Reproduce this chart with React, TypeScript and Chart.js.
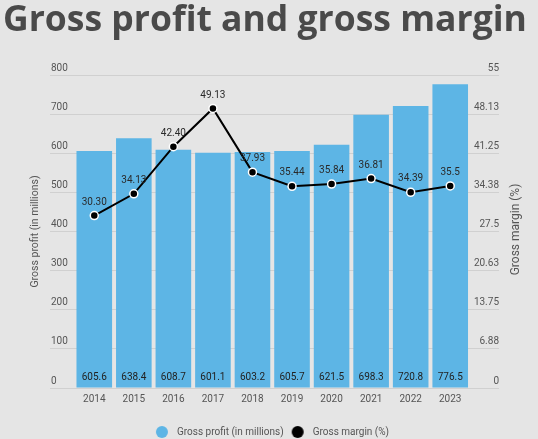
import React, { useEffect, useRef } from 'react';
import { Chart, registerables } from 'chart.js';

Chart.register(...registerables);

const years = ['2014', '2015', '2016', '2017', '2018', '2019', '2020', '2021', '2022', '2023'];
const grossProfit = [605.6, 638.4, 608.7, 601.1, 603.2, 605.7, 621.5, 698.3, 720.8, 776.5];
const grossMargin = [30.3, 34.13, 42.4, 49.13, 37.93, 35.44, 35.84, 36.81, 34.39, 35.5];
const marginText = ['30.30', '34.13', '42.40', '49.13', '37.93', '35.44', '35.84', '36.81', '34.39', '35.5'];
const profitMax = 800;
const profitStep = 100;
const marginMax = 55;
const marginStep = 6.875;

const CANVAS_W = 538;
const CANVAS_H = 447;
const BAR_COLOR = '#5db5e5';
const BG = '#e5e5e5';
const GRID = '#d0d0d0';
const TEXT = '#555555';

function makeDot(color: string) {
  const c = document.createElement('canvas');
  c.width = 20;
  c.height = 14;
  const g = c.getContext('2d')!;
  g.fillStyle = color;
  g.beginPath();
  g.arc(10, 7, 6, 0, Math.PI * 2);
  g.fill();
  return c;
}

export default function App() {
  const ref = useRef<HTMLCanvasElement | null>(null);

  useEffect(() => {
    document.body.style.margin = '0';
    document.body.style.background = BG;
    document.body.style.overflow = 'hidden';
    const dots = [makeDot(BAR_COLOR), makeDot('#000000')];

    const valueLabels = {
      id: 'valueLabels',
      afterDatasetsDraw(chart: any) {
        const ctx = chart.ctx;
        const area = chart.chartArea;
        ctx.save();
        ctx.textAlign = 'center';
        ctx.textBaseline = 'middle';
        ctx.font = '10px Roboto';
        ctx.fillStyle = '#222222';
        chart.getDatasetMeta(0).data.forEach((el: any, i: number) => {
          ctx.fillText(grossProfit[i].toFixed(1), el.x, area.bottom - 10.3);
        });
        ctx.fillStyle = '#2a2a2a';
        chart.getDatasetMeta(1).data.forEach((el: any, i: number) => {
          ctx.fillText(marginText[i], el.x, el.y - 13.4);
        });
        ctx.restore();
      },
    };

    const rightTitle = {
      id: 'rightTitle',
      afterDraw(chart: any) {
        const ctx = chart.ctx;
        const area = chart.chartArea;
        ctx.save();
        ctx.translate(chart.width - 22.5, (area.top + area.bottom) / 2 - 2);
        ctx.rotate(-Math.PI / 2);
        ctx.font = '12px Roboto';
        ctx.fillStyle = TEXT;
        ctx.textAlign = 'center';
        ctx.textBaseline = 'middle';
        ctx.fillText('Gross margin (%)', 0, 0);
        ctx.restore();
      },
    };

    const chart = new Chart(ref.current!, {
      type: 'bar',
      data: {
        labels: years,
        datasets: [
          {
            type: 'bar',
            label: 'Gross profit (in millions)',
            data: grossProfit,
            backgroundColor: BAR_COLOR,
            borderWidth: 0,
            barPercentage: 0.9,
            categoryPercentage: 1.0,
            yAxisID: 'y',
            order: 1,
          },
          {
            type: 'line',
            label: 'Gross margin (%)',
            data: grossMargin,
            borderColor: '#000000',
            borderWidth: 2,
            pointRadius: 4,
            pointBackgroundColor: '#000000',
            pointBorderColor: '#ffffff',
            pointBorderWidth: 1.5,
            tension: 0,
            yAxisID: 'y1',
            order: 0,
          } as any,
        ],
      },
      options: {
        responsive: false,
        animation: false,
        events: [],
        layout: { padding: { left: 3, right: 0, top: 0, bottom: 0 } },
        font: { family: 'Roboto', size: 10 },
        color: TEXT,
        scales: {
          x: {
            grid: { display: false, drawTicks: false },
            border: { display: false },
            ticks: { color: TEXT, padding: 5, font: { family: 'Roboto', size: 10 } },
            afterFit: (s: any) => { s.height = 35; },
          },
          y: {
            position: 'left',
            min: 0,
            max: profitMax,
            ticks: {
              stepSize: profitStep,
              mirror: true,
              padding: -23.5,
              labelOffset: -7,
              color: TEXT,
              font: { family: 'Roboto', size: 10 },
            },
            grid: { color: GRID, tickColor: GRID, tickLength: 24.5, drawTicks: true, lineWidth: 1 },
            border: { display: false },
            title: {
              display: true,
              text: 'Gross profit (in millions)',
              color: TEXT,
              font: { family: 'Roboto', size: 10.5 },
              padding: { top: 26.4, bottom: 0 },
            },
            afterFit: (s: any) => { s.width = 71.5; },
          },
          y1: {
            position: 'right',
            min: 0,
            max: marginMax,
            ticks: {
              stepSize: marginStep,
              mirror: true,
              padding: 29,
              labelOffset: -7,
              color: TEXT,
              font: { family: 'Roboto', size: 10 },
              callback: (v: any) => String(Math.round(Number(v) * 100) / 100),
            },
            grid: { color: GRID, tickColor: GRID, tickLength: 29, drawTicks: true, drawOnChartArea: false, lineWidth: 1 },
            border: { display: false },
            afterFit: (s: any) => { s.width = 68; },
          },
        } as any,
        plugins: {
          title: {
            display: true,
            text: 'Gross profit and gross margin',
            align: 'start',
            color: '#4a4a4a',
            font: { family: 'Open Sans', size: 35.5, weight: 'bold', lineHeight: 1.155 },
            padding: { top: 0, bottom: 34 },
          },
          legend: {
            position: 'bottom',
            labels: {
              usePointStyle: true,
              pointStyleWidth: 20,
              boxHeight: 10,
              padding: 4,
              color: TEXT,
              font: { family: 'Roboto', size: 10 },
              generateLabels: (c: any) =>
                c.data.datasets.map((ds: any, i: number) => ({
                  text: ds.label,
                  fillStyle: i === 0 ? BAR_COLOR : '#000',
                  strokeStyle: i === 0 ? BAR_COLOR : '#000',
                  lineWidth: 0,
                  pointStyle: dots[i],
                  hidden: false,
                  datasetIndex: i,
                  fontColor: TEXT,
                })),
            },
          },
          tooltip: { enabled: false },
        },
      } as any,
      plugins: [valueLabels, rightTitle],
    });
    return () => chart.destroy();
  }, []);

  return (
    <div style={{ width: CANVAS_W, height: CANVAS_H }}>
      <canvas ref={ref} width={CANVAS_W} height={CANVAS_H} style={{ display: 'block' }} />
    </div>
  );
}
